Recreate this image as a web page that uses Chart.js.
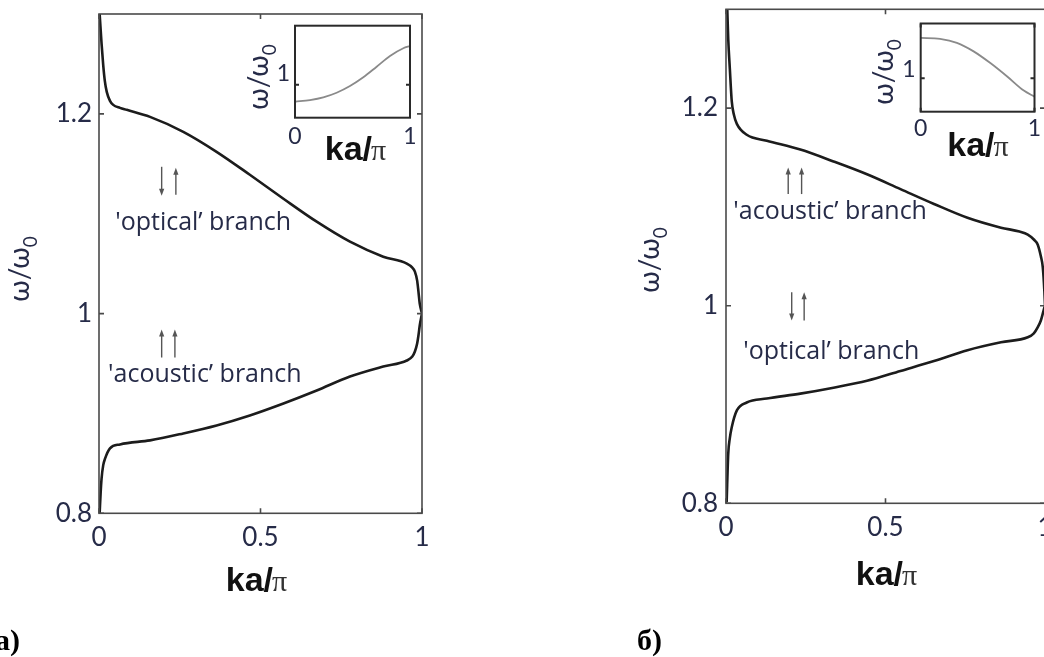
<!DOCTYPE html>
<html>
<head>
<meta charset="utf-8">
<title>Dispersion branches</title>
<script src="https://cdn.jsdelivr.net/npm/chart.js@4.4.1/dist/chart.umd.min.js"></script>
<style>
  html, body { margin: 0; padding: 0; background: #fff; }
  body { width: 1044px; height: 657px; overflow: hidden; position: relative; }
  canvas { position: absolute; }
</style>
</head>
<body>
<canvas id="mainA" width="440" height="657" style="left:0;top:0"></canvas>
<canvas id="mainB" width="450" height="657" style="left:600px;top:0"></canvas>
<canvas id="insetA" width="200" height="175" style="left:240px;top:0"></canvas>
<canvas id="insetB" width="190" height="175" style="left:860px;top:0"></canvas>
<script>
// ---------- data: x = ka/π, y = ω/ω0 ----------
// panel а
const kaA_optical  = [0.002, 0.008, 0.013, 0.018, 0.024, 0.034, 0.044, 0.065, 0.086, 0.158, 0.261, 0.364, 0.467, 0.571, 0.674, 0.777, 0.880, 0.953, 0.970, 0.978, 0.985, 0.989, 0.993, 1.000];
const wA_optical   = [1.300, 1.270, 1.249, 1.233, 1.222, 1.213, 1.209, 1.206, 1.204, 1.197, 1.182, 1.162, 1.139, 1.115, 1.092, 1.072, 1.057, 1.050, 1.046, 1.042, 1.033, 1.022, 1.010, 1.000];
const kaA_acoustic = [0.002, 0.005, 0.008, 0.013, 0.019, 0.034, 0.065, 0.158, 0.261, 0.364, 0.467, 0.571, 0.674, 0.777, 0.880, 0.953, 0.970, 0.978, 0.985, 0.989, 0.993, 1.000];
const wA_acoustic  = [0.800, 0.820, 0.835, 0.848, 0.855, 0.865, 0.869, 0.873, 0.880, 0.888, 0.898, 0.910, 0.923, 0.937, 0.947, 0.953, 0.957, 0.962, 0.970, 0.978, 0.988, 1.000];
// panel б
const kaB_acoustic = [0.004, 0.007, 0.012, 0.018, 0.025, 0.034, 0.065, 0.128, 0.233, 0.337, 0.442, 0.547, 0.652, 0.757, 0.862, 0.920, 0.946, 0.965, 0.977, 0.987, 0.993, 0.998, 1.000];
const wB_acoustic  = [1.300, 1.270, 1.240, 1.207, 1.193, 1.184, 1.173, 1.167, 1.158, 1.146, 1.133, 1.118, 1.103, 1.089, 1.079, 1.075, 1.072, 1.067, 1.062, 1.050, 1.039, 1.015, 1.000];
const kaB_optical  = [0.002, 0.007, 0.012, 0.018, 0.034, 0.065, 0.128, 0.233, 0.337, 0.442, 0.547, 0.652, 0.757, 0.862, 0.946, 0.965, 0.977, 0.987, 0.993, 0.998, 1.000];
const wB_optical   = [0.801, 0.850, 0.866, 0.877, 0.894, 0.902, 0.906, 0.911, 0.917, 0.924, 0.934, 0.944, 0.955, 0.963, 0.968, 0.972, 0.978, 0.985, 0.992, 0.998, 1.000];
// insets
const kaInsetA = [0.00, 0.13, 0.246, 0.362, 0.478, 0.594, 0.71, 0.826, 0.942, 1.00];
const wInsetA  = [0.743, 0.769, 0.810, 0.880, 0.982, 1.115, 1.276, 1.439, 1.556, 1.591];
const kaInsetB = [0.00, 0.17, 0.318, 0.465, 0.612, 0.76, 0.906, 1.00];
const wInsetB  = [1.605, 1.590, 1.530, 1.403, 1.228, 1.027, 0.816, 0.726];
// ticks
const mainXTicks  = [0, 0.5, 1];
const mainYTicks  = [0.8, 1, 1.2];
const insetXTicks = [0, 1];
const insetYTicks = [1];

// ---------- styling ----------
const SANS = 'Lato, "Open Sans", "Noto Sans", sans-serif';
const NOTE = '"Open Sans", "Noto Sans", sans-serif';
const INK = '#262b48';

function zeroPad(s) {
  s.paddingTop = 0; s.paddingBottom = 0; s.paddingLeft = 0; s.paddingRight = 0;
}

// frame around the plot area with short inward tick marks on all four sides
const frameAndTicks = {
  id: 'frameAndTicks',
  afterDatasetsDraw(chart, args, opts) {
    const { ctx, chartArea: a, scales } = chart;
    ctx.save();
    ctx.strokeStyle = opts.color;
    ctx.lineWidth = opts.width;
    ctx.strokeRect(a.left, a.top, a.right - a.left, a.bottom - a.top);
    const L = opts.tickLen;
    ctx.beginPath();
    scales.x.ticks.forEach(t => {
      const px = scales.x.getPixelForValue(t.value);
      ctx.moveTo(px, a.bottom); ctx.lineTo(px, a.bottom - L);
      ctx.moveTo(px, a.top); ctx.lineTo(px, a.top + L);
    });
    scales.y.ticks.forEach(t => {
      const py = scales.y.getPixelForValue(t.value);
      ctx.moveTo(a.left, py); ctx.lineTo(a.left + L, py);
      ctx.moveTo(a.right, py); ctx.lineTo(a.right - L, py);
    });
    ctx.stroke();
    ctx.restore();
  }
};

function drawOmegaTitle(ctx, cx, cy, size) {
  ctx.save();
  ctx.translate(cx, cy);
  ctx.rotate(-Math.PI / 2);
  ctx.fillStyle = INK;
  ctx.textBaseline = 'alphabetic';
  ctx.font = size + 'px ' + SANS;
  const main = 'ω/ω';
  const wMain = ctx.measureText(main).width;
  ctx.font = Math.round(size * 0.68) + 'px ' + SANS;
  const wSub = ctx.measureText('0').width;
  const x0 = -(wMain + wSub) / 2;
  const base = size * 0.22;
  ctx.font = size + 'px ' + SANS;
  ctx.fillText(main, x0, base);
  ctx.font = Math.round(size * 0.68) + 'px ' + SANS;
  ctx.fillText('0', x0 + wMain, base + size * 0.28);
  ctx.restore();
}

function drawKaPi(ctx, cx, baseline) {
  ctx.save();
  ctx.textBaseline = 'alphabetic';
  ctx.font = 'bold 34px "Liberation Sans", Arial, sans-serif';
  const w1 = ctx.measureText('ka/').width;
  ctx.font = '30px "Liberation Serif", "Times New Roman", serif';
  const w2 = ctx.measureText('π').width;
  const x0 = cx - (w1 + w2) / 2;
  ctx.fillStyle = '#111';
  ctx.font = 'bold 34px "Liberation Sans", Arial, sans-serif';
  ctx.fillText('ka/', x0, baseline);
  ctx.fillStyle = '#333';
  ctx.font = '30px "Liberation Serif", "Times New Roman", serif';
  ctx.fillText('π', x0 + w1 - 1, baseline);
  ctx.restore();
}

function drawArrow(ctx, x, y0, y1) {
  const dir = Math.sign(y1 - y0);
  ctx.beginPath();
  ctx.moveTo(x, y0);
  ctx.lineTo(x, y1 - dir * 5);
  ctx.stroke();
  ctx.beginPath();
  ctx.moveTo(x, y1);
  ctx.lineTo(x - 2.6, y1 - dir * 7);
  ctx.lineTo(x + 2.6, y1 - dir * 7);
  ctx.closePath();
  ctx.fill();
}

// titles, branch labels and spin arrows
const panelDecor = {
  id: 'panelDecor',
  afterDraw(chart, args, o) {
    const { ctx, scales: { x, y } } = chart;
    ctx.save();
    (o.arrows || []).forEach(a => {
      ctx.strokeStyle = '#555'; ctx.fillStyle = '#555'; ctx.lineWidth = 1.4;
      drawArrow(ctx, x.getPixelForValue(a.k), y.getPixelForValue(a.from), y.getPixelForValue(a.to));
    });
    (o.texts || []).forEach(t => {
      ctx.fillStyle = INK;
      ctx.font = t.size + 'px ' + NOTE;
      ctx.textAlign = 'left';
      ctx.textBaseline = 'alphabetic';
      ctx.fillText(t.text, x.getPixelForValue(t.k), y.getPixelForValue(t.w));
    });
    if (o.yTitle) drawOmegaTitle(ctx, o.yTitle.cx, o.yTitle.cy, o.yTitle.size);
    if (o.xTitle) drawKaPi(ctx, o.xTitle.cx, o.xTitle.baseline);
    if (o.tag) {
      ctx.fillStyle = '#000';
      ctx.font = 'bold 30px "Liberation Serif", "Times New Roman", serif';
      ctx.textAlign = 'left';
      ctx.textBaseline = 'alphabetic';
      ctx.fillText(o.tag.text, o.tag.x, o.tag.baseline);
    }
    ctx.restore();
  }
};

function makeChart(id, cfg) {
  return new Chart(document.getElementById(id), {
    type: 'scatter',
    data: {
      datasets: cfg.series.map(s => ({
        data: s.ka.map((k, i) => ({ x: k, y: s.w[i] })),
        showLine: true,
        pointRadius: 0,
        pointHoverRadius: 0,
        borderColor: cfg.lineColor,
        borderWidth: cfg.lineWidth,
        cubicInterpolationMode: 'monotone',
        fill: false
      }))
    },
    options: {
      responsive: false,
      animation: false,
      devicePixelRatio: 1,
      events: [],
      layout: { padding: cfg.padding },
      plugins: {
        legend: { display: false },
        tooltip: { enabled: false },
        frameAndTicks: cfg.frame,
        panelDecor: cfg.decor
      },
      scales: {
        x: {
          type: 'linear', position: 'bottom', min: 0, max: 1,
          afterBuildTicks: s => { s.ticks = cfg.xTicks.map(v => ({ value: v })); },
          afterFit: s => { s.height = cfg.xAxisHeight; zeroPad(s); },
          grid: { display: false, drawTicks: false },
          border: { display: false },
          ticks: {
            color: INK, padding: cfg.xTickPad, maxRotation: 0, autoSkip: false,
            font: { family: SANS, size: cfg.tickSize },
            callback: v => String(v)
          }
        },
        y: {
          type: 'linear', position: 'left', min: cfg.yMin, max: cfg.yMax,
          afterBuildTicks: s => { s.ticks = cfg.yTicks.map(v => ({ value: v })); },
          afterFit: s => { s.width = cfg.yAxisWidth; zeroPad(s); },
          grid: { display: false, drawTicks: false },
          border: { display: false },
          ticks: {
            color: INK, padding: cfg.yTickPad, labelOffset: cfg.yLabelOffset || 0, autoSkip: false,
            font: { family: SANS, size: cfg.tickSize },
            callback: v => String(v)
          }
        }
      }
    },
    plugins: [frameAndTicks, panelDecor]
  });
}

const mainFrame  = { color: '#4a4a4a', width: 1.6, tickLen: 5 };
const insetFrame = { color: '#2a2a2a', width: 2, tickLen: 4 };

// ---------- panel а ----------
makeChart('mainA', {
  series: [{ ka: kaA_optical, w: wA_optical }, { ka: kaA_acoustic, w: wA_acoustic }],
  lineColor: '#1c1c1c', lineWidth: 2.6,
  padding: { left: 0, top: 14, right: 18, bottom: 657 - 513.3 - 40 },
  xAxisHeight: 40, yAxisWidth: 99,
  xTicks: mainXTicks, yTicks: mainYTicks, yMin: 0.8, yMax: 1.3,
  tickSize: 26, xTickPad: 9, yTickPad: 7,
  frame: mainFrame,
  decor: {
    arrows: [
      { k: 0.194, from: 1.147, to: 1.118 }, { k: 0.238, from: 1.119, to: 1.146 },
      { k: 0.194, from: 0.956, to: 0.984 }, { k: 0.235, from: 0.956, to: 0.984 }
    ],
    texts: [
      { text: "'optical\u2019 branch", k: 0.05, w: 1.084, size: 25 },
      { text: "'acoustic\u2019 branch", k: 0.028, w: 0.9315, size: 25 }
    ],
    yTitle: { cx: 23, cy: 269, size: 28 },
    xTitle: { cx: 257, baseline: 591 },
    tag: { text: 'а)', x: -5, baseline: 650 }
  }
});

// ---------- panel б ----------
makeChart('mainB', {
  series: [{ ka: kaB_acoustic, w: wB_acoustic }, { ka: kaB_optical, w: wB_optical }],
  lineColor: '#1c1c1c', lineWidth: 2.6,
  padding: { left: 0, top: 9.3, right: 5, bottom: 657 - 503.3 - 40 },
  xAxisHeight: 40, yAxisWidth: 126,
  xTicks: mainXTicks, yTicks: mainYTicks, yMin: 0.8, yMax: 1.3,
  tickSize: 26, xTickPad: 9, yTickPad: 8,
  frame: mainFrame,
  decor: {
    arrows: [
      { k: 0.195, from: 1.113, to: 1.140 }, { k: 0.237, from: 1.113, to: 1.140 },
      { k: 0.206, from: 1.0135, to: 0.985 }, { k: 0.245, from: 0.985, to: 1.0135 }
    ],
    texts: [
      { text: "'acoustic\u2019 branch", k: 0.023, w: 1.0877, size: 25 },
      { text: "'optical\u2019 branch", k: 0.054, w: 0.946, size: 25 }
    ],
    yTitle: { cx: 53, cy: 260, size: 28 },
    xTitle: { cx: 287, baseline: 585 },
    tag: { text: 'б)', x: 37, baseline: 650 }
  }
});

// ---------- insets ----------
makeChart('insetA', {
  series: [{ ka: kaInsetA, w: wInsetA }],
  lineColor: '#8a8a8a', lineWidth: 1.8,
  padding: { left: 0, top: 25.7, right: 30, bottom: 175 - 117.7 - 30 },
  xAxisHeight: 30, yAxisWidth: 55,
  xTicks: insetXTicks, yTicks: insetYTicks, yMin: 0.5, yMax: 1.9,
  tickSize: 23, xTickPad: 5, yTickPad: 5, yLabelOffset: -11,
  frame: insetFrame,
  decor: {
    yTitle: { cx: 22, cy: 77, size: 28 },
    xTitle: { cx: 116, baseline: 160 }
  }
});

makeChart('insetB', {
  series: [{ ka: kaInsetB, w: wInsetB }],
  lineColor: '#8a8a8a', lineWidth: 1.8,
  padding: { left: 0, top: 23.5, right: 15.5, bottom: 175 - 111.7 - 30 },
  xAxisHeight: 30, yAxisWidth: 60.7,
  xTicks: insetXTicks, yTicks: insetYTicks, yMin: 0.5, yMax: 1.82,
  tickSize: 23, xTickPad: 3, yTickPad: 5, yLabelOffset: -9,
  frame: insetFrame,
  decor: {
    yTitle: { cx: 27, cy: 72, size: 28 },
    xTitle: { cx: 118.5, baseline: 156 }
  }
});
</script>
</body>
</html>
